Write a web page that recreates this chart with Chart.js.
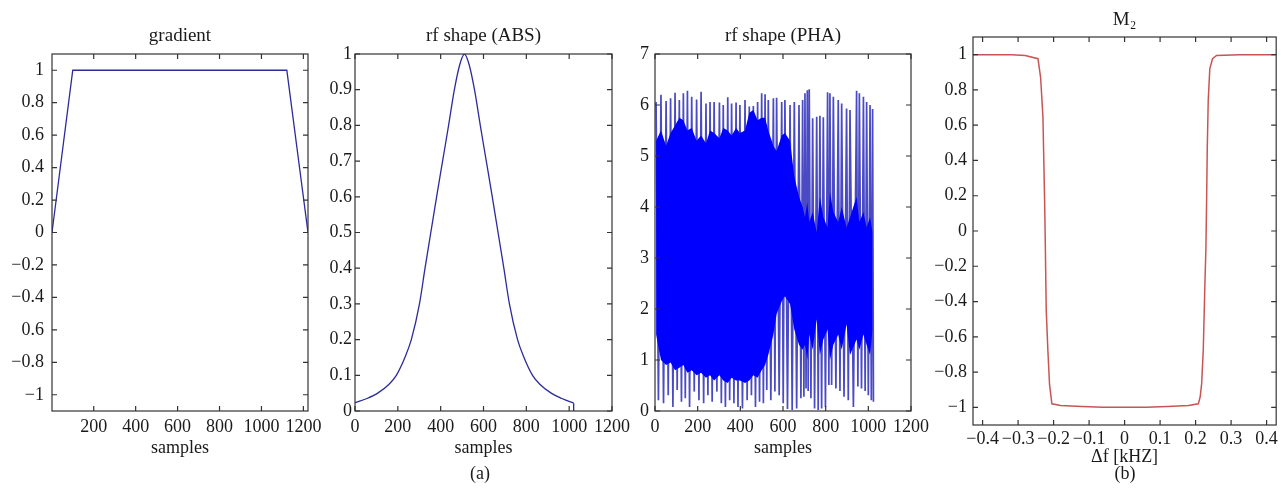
<!DOCTYPE html>
<html><head><meta charset="utf-8">
<script src="https://cdn.jsdelivr.net/npm/chart.js@4.4.1/dist/chart.umd.min.js"></script>
<style>
html,body{margin:0;padding:0;background:#fff;}
body{width:1281px;height:501px;position:relative;overflow:hidden;font-family:"Liberation Serif","Times New Roman",serif;}
canvas{position:absolute;left:0;top:0;}
.cap{position:absolute;font-size:18px;line-height:18px;color:#1a1a1a;transform:translateX(-50%);white-space:nowrap;}
</style></head><body>
<canvas id="c1" width="1281" height="501"></canvas>
<canvas id="c2" width="1281" height="501"></canvas>
<canvas id="c3" width="1281" height="501"></canvas>
<canvas id="c4" width="1281" height="501"></canvas>
<div class="cap" style="left:480px;top:464px">(a)</div>
<div class="cap" style="left:1125px;top:464px">(b)</div>
<script>
// ---------- Panel 1: gradient ----------
const gradX = [1, 100, 1121, 1222];
const gradY = [0, 1, 1, 0];
const gradXTicks = [200, 400, 600, 800, 1000, 1200];
const gradXLabels = ['200', '400', '600', '800', '1000', '1200'];
const gradYTicks = [-1, -0.8, -0.6, -0.4, -0.2, 0, 0.2, 0.4, 0.6, 0.8, 1];
const gradYLabels = ['\u22121', '\u22120.8', '0.6', '\u22120.4', '\u22120.2', '0', '0.2', '0.4', '0.6', '0.8', '1'];

// ---------- Panel 2: rf shape (ABS) ----------
const absX = [0, 56, 106, 159, 193, 233, 263, 301, 327, 354, 381, 409, 437, 464, 489, 511, 533, 558, 585, 613, 641, 668, 695, 721, 759, 789, 829, 863, 916, 966, 1021];
const absY = [0.023, 0.035, 0.05, 0.075, 0.1, 0.15, 0.2, 0.3, 0.4, 0.5, 0.6, 0.7, 0.8, 0.9, 0.97, 1.0, 0.97, 0.9, 0.8, 0.7, 0.6, 0.5, 0.4, 0.3, 0.2, 0.15, 0.1, 0.075, 0.05, 0.035, 0.022];
const absEndX = [1021, 1021];
const absEndY = [0.022, 0];
const sampTicks = [0, 200, 400, 600, 800, 1000, 1200];
const sampLabels = ['0', '200', '400', '600', '800', '1000', '1200'];
const absYTicks = [0, 0.1, 0.2, 0.3, 0.4, 0.5, 0.6, 0.7, 0.8, 0.9, 1];
const absYLabels = ['0', '0.1', '0.2', '0.3', '0.4', '0.5', '0.6', '0.7', '0.8', '0.9', '1'];

// ---------- Panel 3: rf shape (PHA) ----------
const phaTopX = [5, 28, 52, 73, 94, 114, 133, 152, 172, 195, 216, 239, 258, 277, 302, 320, 341, 359, 380, 398, 422, 442, 461, 481, 500, 516, 531, 555, 570, 594, 609, 633, 653, 675, 692, 703, 714, 723, 739, 758, 773, 789, 809, 820, 836, 859, 875, 898, 914, 945, 958, 977, 992, 1008, 1020];
const phaTop = [6.06, 6.20, 6.08, 6.13, 6.24, 6.10, 6.23, 6.28, 6.16, 6.11, 6.26, 6.03, 6.06, 6.06, 6.05, 6.00, 6.15, 6.03, 6.05, 6.00, 6.10, 5.97, 5.98, 6.06, 6.23, 6.21, 6.10, 6.13, 6.14, 6.06, 6.10, 6.00, 6.06, 6.00, 6.10, 6.23, 6.29, 6.31, 5.74, 5.77, 5.79, 5.76, 6.25, 6.23, 6.16, 6.10, 6.03, 5.93, 5.90, 6.28, 6.23, 6.16, 6.06, 6.00, 5.92];
const phaBotX = [16, 40, 62, 84, 104, 124, 142, 162, 184, 206, 228, 248, 268, 290, 311, 330, 350, 370, 389, 410, 432, 452, 471, 490, 508, 524, 543, 562, 582, 601, 621, 643, 664, 684, 698, 708, 718, 731, 748, 765, 781, 799, 815, 828, 848, 867, 886, 906, 930, 951, 968, 985, 1000, 1014, 1024];
const phaBot = [0.21, 0.15, 0.31, 0.08, 0.41, 0.18, 0.25, 0.08, 0.38, 0.21, 0.15, 0.31, 0.18, 0.38, 0.15, 0.08, 0.21, 0.15, 0.08, 0.05, 0.21, 0.31, 0.08, 0.18, 0.15, 0.41, 0.21, 0.38, 0.31, 0.15, 0.04, 0.02, 0.05, 0.25, 0.28, 0.44, 0.39, 0.25, 0.05, 0.02, 0.05, 0.08, 0.51, 0.51, 0.44, 0.39, 0.28, 0.21, 0.08, 0.48, 0.44, 0.39, 0.31, 0.21, 0.18];
// solid (overlapping) band of the phase trace, read at each tooth position
const phaCoreHi = [5.3, 5.5, 5.2, 5.45, 5.6, 5.75, 5.7, 5.5, 5.55, 5.3,
                   5.4, 5.25, 5.5, 5.45, 5.35, 5.55, 5.5, 5.4, 5.55, 5.45,
                   5.5, 5.85, 5.9, 5.7, 5.75, 5.75, 5.5, 5.2, 5.1, 5.4,
                   5.45, 5.3, 4.6, 4.2, 4.0,
                   3.8, 4.1, 3.7, 3.9, 3.5, 4.2, 3.8, 3.6, 4.3, 3.9, 3.7, 4.0, 3.6, 3.8, 4.2, 3.7, 3.9, 3.6, 3.8, 3.5];
const phaCoreLo = [1.5, 1.0, 0.9, 0.95, 0.8, 0.85, 0.9, 0.75, 0.8, 0.7,
                   0.75, 0.65, 0.7, 0.6, 0.7, 0.6, 0.55, 0.65, 0.6, 0.6,
                   0.55, 0.6, 0.7, 0.65, 0.8, 0.9, 1.1, 1.5, 1.9, 2.15,
                   2.25, 2.1, 1.6, 1.3, 1.2,
                   1.3, 1.0, 1.5, 1.2, 1.8, 1.1, 1.4, 1.6, 1.0, 1.3, 1.5, 1.2, 1.7, 1.1, 1.4, 1.2, 1.5, 1.3, 1.1, 1.6];
const phaYTicks = [0, 1, 2, 3, 4, 5, 6, 7];
const phaYLabels = ['0', '1', '2', '3', '4', '5', '6', '7'];

// ---------- Panel 4: M2 ----------
const m2X = [-0.427, -0.38, -0.318, -0.28, -0.244, -0.2365, -0.230, -0.2253, -0.2235, -0.2207, -0.216, -0.2114, -0.2048, -0.18, -0.12, -0.06, 0, 0.06, 0.12, 0.18, 0.2076, 0.213, 0.217, 0.2216, 0.2263, 0.229, 0.231, 0.2328, 0.2356, 0.240, 0.2477, 0.259, 0.324, 0.38, 0.427];
const m2Y = [1.0, 1.0, 1.0, 0.995, 0.977, 0.87, 0.645, 0.175, -0.05, -0.45, -0.68, -0.87, -0.98, -0.99, -0.995, -1.0, -1.0, -1.0, -0.995, -0.99, -0.98, -0.94, -0.867, -0.676, -0.295, -0.105, 0.17, 0.46, 0.74, 0.92, 0.977, 0.995, 1.0, 1.0, 1.0];
const m2XTicks = [-0.4, -0.3, -0.2, -0.1, 0, 0.1, 0.2, 0.3, 0.4];
const m2XLabels = ['\u22120.4', '\u22120.3', '\u22120.2', '\u22120.1', '0', '0.1', '0.2', '0.3', '0.4'];
const m2YTicks = [-1, -0.8, -0.6, -0.4, -0.2, 0, 0.2, 0.4, 0.6, 0.8, 1];
const m2YLabels = ['\u22121', '\u22120.8', '\u22120.6', '\u22120.4', '\u22120.2', '0', '0.2', '0.4', '0.6', '0.8', '1'];

// ---------- helpers ----------
const FONT = { family: '"Liberation Serif", "Times New Roman", serif', size: 18, weight: 'normal' };
const TITLE_FONT = { family: '"Liberation Serif", "Times New Roman", serif', size: 19, weight: 'normal' };
const TXT = '#1a1a1a';
const zip = (xs, ys) => xs.map((x, i) => ({ x, y: ys[i] }));

const framePlugin = {
  id: 'frame',
  afterDraw(chart) {
    const { ctx, chartArea: a, scales } = chart;
    const x = scales.x, y = scales.y;
    ctx.save();
    ctx.strokeStyle = '#333';
    ctx.lineWidth = 1.2;
    ctx.strokeRect(a.left, a.top, a.right - a.left, a.bottom - a.top);
    ctx.beginPath();
    const TL = 5;
    x.ticks.forEach(t => {
      const p = x.getPixelForValue(t.value);
      ctx.moveTo(p, a.bottom); ctx.lineTo(p, a.bottom - TL);
      ctx.moveTo(p, a.top); ctx.lineTo(p, a.top + TL);
    });
    y.ticks.forEach(t => {
      const p = y.getPixelForValue(t.value);
      ctx.moveTo(a.left, p); ctx.lineTo(a.left + TL, p);
      ctx.moveTo(a.right, p); ctx.lineTo(a.right - TL, p);
    });
    ctx.stroke();
    ctx.restore();
  }
};

function makeChart(id, c) {
  const W = 60;
  new Chart(document.getElementById(id), {
    type: 'line',
    data: { datasets: c.datasets },
    options: {
      responsive: false,
      animation: false,
      events: [],
      layout: { padding: { left: c.L - W, right: 1281 - c.R, top: 0, bottom: 501 - c.B - c.xH } },
      plugins: {
        legend: { display: false },
        tooltip: { enabled: false },
        title: {
          display: true, text: c.title, fullSize: false, color: TXT, font: TITLE_FONT,
          padding: { top: c.tTop, bottom: c.tBot }
        }
      },
      scales: {
        x: {
          type: 'linear', min: c.xMin, max: c.xMax,
          grid: { display: false, drawTicks: false }, border: { display: false },
          afterBuildTicks: s => { s.ticks = c.xTicks.map(v => ({ value: v })); },
          afterFit: s => { s.height = c.xH; },
          ticks: { autoSkip: false, maxRotation: 0, minRotation: 0, padding: c.xPad, color: TXT, font: FONT,
                   callback: (v, i) => c.xLabels[i] },
          title: { display: true, text: c.xTitle, color: TXT, font: FONT, padding: { top: 0, bottom: 0 } }
        },
        y: {
          type: 'linear', min: c.yMin, max: c.yMax,
          grid: { display: false, drawTicks: false }, border: { display: false },
          afterBuildTicks: s => { s.ticks = c.yTicks.map(v => ({ value: v })); },
          afterFit: s => { s.width = W; },
          ticks: { autoSkip: false, padding: c.yPad, color: TXT, font: FONT,
                   callback: (v, i) => c.yLabels[i] }
        }
      }
    },
    plugins: [framePlugin]
  });
}

const lineBlue = '#2b2b9c';

makeChart('c1', {
  L: 52, T: 54, R: 308, B: 411, xH: 47.7, tTop: 25.0, tBot: 6.2, xPad: 5, yPad: 8,
  title: 'gradient', xTitle: 'samples',
  xMin: 1, xMax: 1222, yMin: -1.1, yMax: 1.1,
  xTicks: gradXTicks, xLabels: gradXLabels, yTicks: gradYTicks, yLabels: gradYLabels,
  datasets: [{ data: zip(gradX, gradY), borderColor: lineBlue, borderWidth: 1.3, pointRadius: 0, tension: 0 }]
});

makeChart('c2', {
  L: 355, T: 54, R: 612, B: 411, xH: 47.7, tTop: 25.0, tBot: 6.2, xPad: 5, yPad: 3,
  title: 'rf shape (ABS)', xTitle: 'samples',
  xMin: 0, xMax: 1200, yMin: 0, yMax: 1,
  xTicks: sampTicks, xLabels: sampLabels, yTicks: absYTicks, yLabels: absYLabels,
  datasets: [
    { data: zip(absX, absY), borderColor: lineBlue, borderWidth: 1.3, pointRadius: 0, cubicInterpolationMode: 'monotone' },
    { data: zip(absEndX, absEndY), borderColor: lineBlue, borderWidth: 1.3, pointRadius: 0, tension: 0 }
  ]
});

const zig = [];
phaTopX.forEach((x, i) => {
  zig.push({ x, y: phaTop[i] });
  zig.push({ x: phaBotX[i], y: phaBot[i] });
});

makeChart('c3', {
  L: 655, T: 54, R: 911, B: 411, xH: 47.7, tTop: 25.0, tBot: 6.2, xPad: 5, yPad: 6,
  title: 'rf shape (PHA)', xTitle: 'samples',
  xMin: 0, xMax: 1200, yMin: 0, yMax: 7,
  xTicks: sampTicks, xLabels: sampLabels, yTicks: phaYTicks, yLabels: phaYLabels,
  datasets: [
    { data: zip(phaTopX, phaCoreLo), borderColor: 'rgba(0,0,255,0)', borderWidth: 0, pointRadius: 0, fill: false },
    { data: zip(phaTopX, phaCoreHi), borderColor: 'rgba(0,0,255,0)', borderWidth: 0, pointRadius: 0,
      fill: '-1', backgroundColor: '#0000ff' },
    { data: zig, borderColor: '#4a4ac4', borderWidth: 1.7, pointRadius: 0, tension: 0 }
  ]
});

makeChart('c4', {
  L: 973, T: 37, R: 1278, B: 425, xH: 43, tTop: 8.5, tBot: 5.7, xPad: 3, yPad: 6,
  title: 'M\u2082', xTitle: '\u0394f [kHZ]',
  xMin: -0.427, xMax: 0.427, yMin: -1.1, yMax: 1.1,
  xTicks: m2XTicks, xLabels: m2XLabels, yTicks: m2YTicks, yLabels: m2YLabels,
  datasets: [{ data: zip(m2X, m2Y), borderColor: '#c85555', borderWidth: 1.5, pointRadius: 0, tension: 0 }]
});
</script>
</body></html>
